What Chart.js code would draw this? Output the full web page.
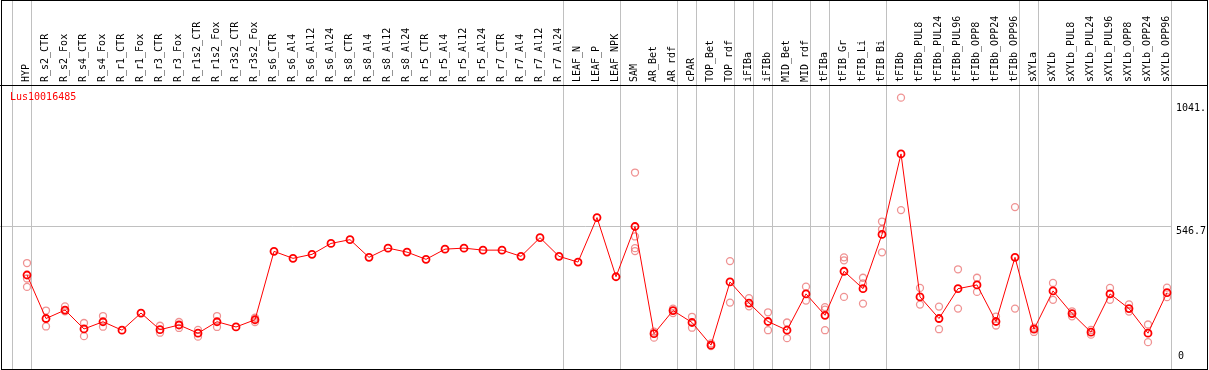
<!DOCTYPE html>
<html>
<head>
<meta charset="utf-8">
<script src="https://cdn.jsdelivr.net/npm/chart.js@4"></script>
<style>
   html, body { margin: 0; padding: 0; background: #ffffff; }
   canvas { display: block; }
</style>
</head>
<body>
<canvas id="grafico" width="1209" height="370"></canvas>
<script>
// Categorias (amostras)
const samples = [
   'HYP', 'R_s2_CTR', 'R_s2_Fox', 'R_s4_CTR', 'R_s4_Fox', 'R_r1_CTR', 'R_r1_Fox', 'R_r3_CTR', 'R_r3_Fox',
   'R_r1s2_CTR', 'R_r1s2_Fox', 'R_r3s2_CTR', 'R_r3s2_Fox', 'R_s6_CTR', 'R_s6_Al4', 'R_s6_Al12', 'R_s6_Al24',
   'R_s8_CTR', 'R_s8_Al4', 'R_s8_Al12', 'R_s8_Al24', 'R_r5_CTR', 'R_r5_Al4', 'R_r5_Al12', 'R_r5_Al24',
   'R_r7_CTR', 'R_r7_Al4', 'R_r7_Al12', 'R_r7_Al24', 'LEAF_N', 'LEAF_P', 'LEAF_NPK', 'SAM', 'AR_Bet', 'AR_rdf',
   'cPAR', 'TOP_Bet', 'TOP_rdf', 'iFIBa', 'iFIBb', 'MID_Bet', 'MID_rdf', 'tFIBa', 'tFIB_Gr', 'tFIB_Li', 'tFIB_Bi',
   'tFIBb', 'tFIBb_PUL8', 'tFIBb_PUL24', 'tFIBb_PUL96', 'tFIBb_OPP8', 'tFIBb_OPP24', 'tFIBb_OPP96',
   'sXYLa', 'sXYLb', 'sXYLb_PUL8', 'sXYLb_PUL24', 'sXYLb_PUL96', 'sXYLb_OPP8', 'sXYLb_OPP24', 'sXYLb_OPP96'
];

// Media de cada amostra
const means = [
   348, 173, 207, 131, 160, 126, 195, 128, 147, 114, 160, 139, 168,
   443, 415, 431, 475, 490, 419, 456, 440, 411, 452, 456, 448, 448, 423, 498, 423,
   400, 579, 341,
   543, 112, 205, 157, 66, 320, 235, 161, 126, 272, 186, 363, 293, 511,
   835, 260, 173, 293, 308, 161, 419, 130, 284, 193, 118, 272, 213, 114, 277
];

// Replicas (null = sem ponto)
const rep1 = [
   396, 205, 222, 155, 183, null, null, 144, 159, 127, 183, null, 176,
   null, null, null, null, null, null, null, null, null, null, null, null, null, null, null, null,
   null, null, null,
   760, 120, 213, 180, 73, 404, 255, 198, 157, 301, 219, 419, 337, 563,
   1061, 296, 221, 371, 337, 181, 621, 136, 316, 202, 127, 296, 230, 149, 297
];
const rep2 = [
   334, 141, 202, 102, 140, null, null, 116, 135, 100, 139, null, 159,
   null, null, null, null, null, null, null, null, null, null, null, null, null, null, null, null,
   null, null, null,
   503, 96, 195, 136, 62, 237, 222, 126, 94, 245, 209, 407, 314, 532,
   609, 229, 130, 213, 280, 145, 213, 119, 248, 182, 108, 248, 201, 78, 259
];
const rep3 = [
   300, null, null, null, null, null, null, null, null, null, null, null, null,
   null, null, null, null, null, null, null, null, null, null, null, null, null, null, null, null,
   null, null, null,
   456, null, null, null, null, null, null, null, null, null, 126, 260, 233, 439,
   null, null, null, null, null, null, null, null, null, null, null, null, null, null, null
];
const rep4 = [
   null, null, null, null, null, null, null, null, null, null, null, null, null,
   null, null, null, null, null, null, null, null, null, null, null, null, null, null, null, null,
   null, null, null,
   444, null, null, null, null, null, null, null, null, null, null, null, null, null,
   null, null, null, null, null, null, null, null, null, null, null, null, null, null, null
];

// Eixo Y: marcas mostradas e faixa
const yTicks = [0, 546.7, 1041];
const yTickLabels = ['0', '546.7', '1041.'];
const yMin = -10.7;
const yMax = 1112;

// Indices apos os quais ha uma linha separadora de grupo
const groupEnds = [-1, 0, 28, 31, 34, 35, 37, 38, 39, 41, 42, 45, 52, 53, 60];

const geneName = 'Lus10016485';

const red = '#ff0000';
const pink = 'rgba(232, 100, 100, 0.7)';
const gridGrey = '#c0c0c0';
const mono = "'DejaVu Sans Mono', monospace";

function repDataset(values) {
   return {
      type: 'line',
      data: values,
      showLine: false,
      pointRadius: 3.5,
      pointBorderWidth: 1.3,
      pointBorderColor: pink,
      pointBackgroundColor: 'rgba(0,0,0,0)',
      clip: false
   };
}

// Plugin: moldura, separadores, linha de referencia, rotulos
const decoracao = {
   id: 'decoracao',
   beforeDatasetsDraw(chart) {
      const ctx = chart.ctx;
      const x = chart.scales.x;
      const y = chart.scales.y;
      ctx.save();
      ctx.lineWidth = 1;
      ctx.strokeStyle = gridGrey;
      // linha horizontal do valor do meio
      const ym = Math.round(y.getPixelForValue(yTicks[1])) + 0.5;
      const xEnd = Math.round(x.getPixelForValue(60) + 3.5) + 0.5;
      ctx.beginPath();
      ctx.moveTo(0, ym);
      ctx.lineTo(xEnd, ym);
      ctx.stroke();
      // separadores verticais
      groupEnds.forEach(i => {
         const px = Math.round(x.getPixelForValue(i) + 3.5) + 0.5;
         ctx.beginPath();
         ctx.moveTo(px, 0);
         ctx.lineTo(px, chart.height);
         ctx.stroke();
      });
      // moldura
      ctx.strokeStyle = '#000000';
      ctx.strokeRect(1.5, 0.5, 1206, 369);
      ctx.beginPath();
      ctx.moveTo(0, 85.5);
      ctx.lineTo(1208, 85.5);
      ctx.stroke();
      ctx.restore();
   },
   afterDraw(chart) {
      const ctx = chart.ctx;
      const y = chart.scales.y;
      ctx.save();
      ctx.font = '10px ' + mono;
      ctx.fillStyle = red;
      ctx.textAlign = 'left';
      ctx.textBaseline = 'middle';
      ctx.fillText(geneName, 10, 97);
      ctx.fillStyle = '#000000';
      yTicks.forEach((v, i) => {
         const py = y.getPixelForValue(v);
         if (v === 0) {
            ctx.textBaseline = 'bottom';
            ctx.fillText(yTickLabels[i], 1178, py);
         } else {
            ctx.textBaseline = 'top';
            ctx.fillText(yTickLabels[i], 1176, py + 1);
         }
      });
      ctx.restore();
   }
};

const grafico = document.getElementById('grafico').getContext('2d');
const chart = new Chart(grafico, {
   data: {
      labels: samples,
      datasets: [
         {
            type: 'line',
            data: means,
            borderColor: red,
            borderWidth: 1,
            pointRadius: 3.5,
            pointBorderWidth: 1.8,
            pointBorderColor: red,
            pointBackgroundColor: 'rgba(0,0,0,0)',
            tension: 0,
            clip: false
         },
         repDataset(rep1),
         repDataset(rep2),
         repDataset(rep3),
         repDataset(rep4)
      ]
   },
   options: {
      responsive: false,
      devicePixelRatio: 1,
      animation: false,
      layout: {
         padding: { left: 27, right: 0, top: 0, bottom: 1 }
      },
      plugins: {
         legend: { display: false },
         tooltip: { enabled: false }
      },
      scales: {
         x: {
            type: 'category',
            position: 'top',
            offset: false,
            grid: { display: false, drawTicks: false },
            border: { display: false },
            ticks: {
               autoSkip: false,
               minRotation: 90,
               maxRotation: 90,
               padding: 3,
               labelOffset: 11,
               color: '#000000',
               font: { family: mono, size: 10 }
            },
            afterFit: scale => { scale.height = 85; }
         },
         y: {
            type: 'linear',
            position: 'right',
            min: yMin,
            max: yMax,
            grid: { display: false, drawTicks: false },
            border: { display: false },
            ticks: { display: false },
            afterFit: scale => { scale.width = 42; }
         }
      }
   },
   plugins: [decoracao]
});
</script>
</body>
</html>
